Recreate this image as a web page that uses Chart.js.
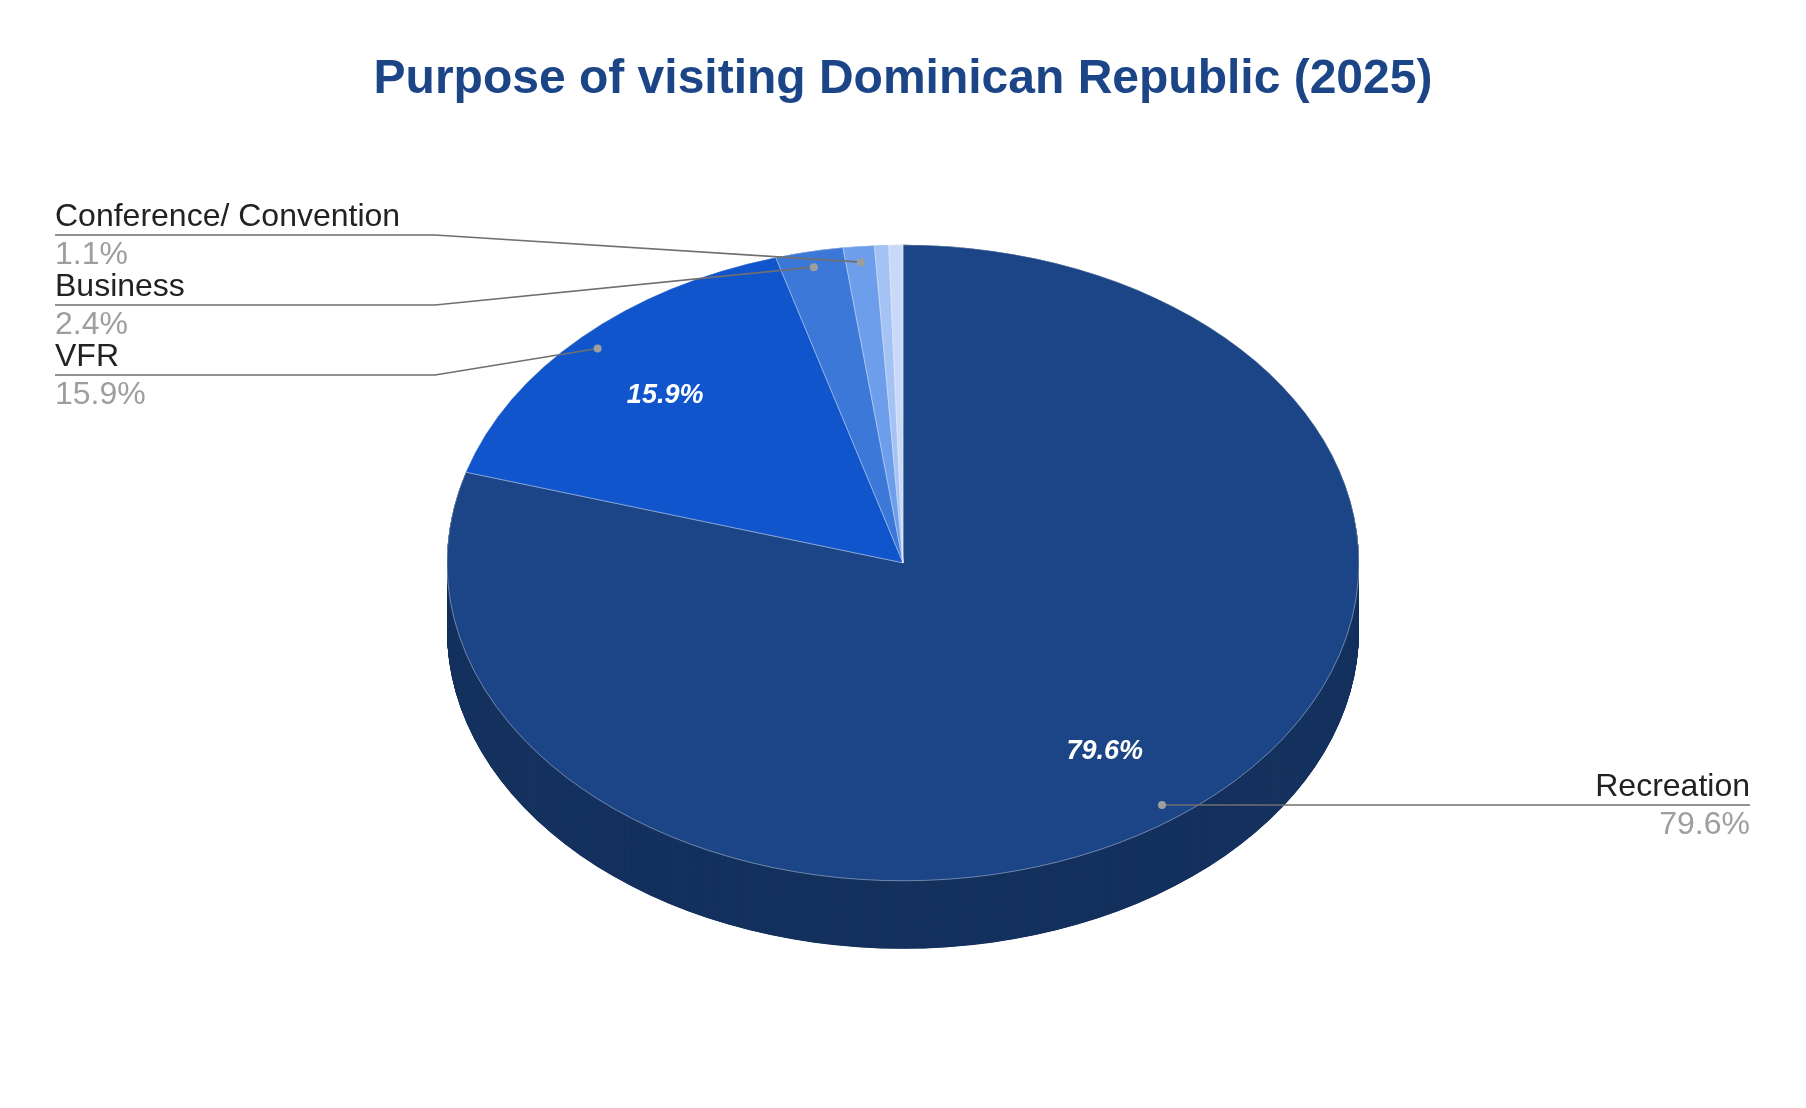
<!DOCTYPE html>
<html>
<head>
<meta charset="utf-8">
<script src="https://cdn.jsdelivr.net/npm/chart.js@4.4.1/dist/chart.umd.min.js"></script>
<style>
  html, body { margin: 0; padding: 0; background: #fff; }
  #wrap { width: 1806px; height: 1108px; }
</style>
</head>
<body>
<div id="wrap"><canvas id="purpose-chart"></canvas></div>
<script>
// shares of visitors by purpose, %
const purposeLabels = ["Recreation", "VFR", "Business", "Conference/ Convention", "Other", "Not stated"];
const purposeShares = [79.6, 15.9, 2.4, 1.1, 0.5, 0.5];
const topColors = ["#1c4587", "#1155cc", "#3c78d8", "#6d9eeb", "#a4c2f4", "#c9daf8"];
const sideColors = ["#15325f", "#0d4099", "#2d5aa2", "#5277b0", "#7b92b7", "#97a4ba"];
const calloutShown = [true, true, true, true, false, false];

const FONT = "'Liberation Sans', Arial, sans-serif";
const TILT = 318 / 456;   // vertical squash of the disc
const DEPTH = 68;         // height of the side wall on screen
const CALLOUT_TOP = 235;  // highest allowed leader line
const CALLOUT_GAP = 70;

// push overlapping callouts apart, keeping each cluster centred on its anchors
function spread(items) {
  items.sort((a, b) => a.dot.y - b.dot.y);
  let groups = items.map(it => ({ items: [it] }));
  const mean = g => g.items.reduce((s, it) => s + it.dot.y, 0) / g.items.length;
  const top = g => Math.max(CALLOUT_TOP, mean(g) - (g.items.length - 1) * CALLOUT_GAP / 2);
  let merged = true;
  while (merged) {
    merged = false;
    for (let g = 0; g < groups.length - 1; g++) {
      const a = groups[g], b = groups[g + 1];
      const aBottom = top(a) + (a.items.length - 1) * CALLOUT_GAP;
      if (top(b) - aBottom < CALLOUT_GAP) {
        groups.splice(g, 2, { items: a.items.concat(b.items) });
        merged = true;
        break;
      }
    }
  }
  groups.forEach(g => {
    const t = top(g);
    g.items.forEach((it, k) => { it.ly = t + k * CALLOUT_GAP; });
  });
}

function drawLabels(chart) {
  const ctx = chart.ctx;
  const arcs = chart.getDatasetMeta(0).data;
  const { x: cx, y: cy, outerRadius: r } = arcs[0];
  const total = purposeShares.reduce((s, v) => s + v, 0);
  const at = (a, f) => {
    const m = (a.startAngle + a.endAngle) / 2;
    return { x: cx + Math.cos(m) * r * f, y: cy + Math.sin(m) * r * f * TILT };
  };
  const pct = v => (v / total * 100).toFixed(1) + "%";

  ctx.save();
  // percentages inside the big slices
  ctx.font = "italic bold 27px " + FONT;
  ctx.fillStyle = "#ffffff";
  ctx.textAlign = "center";
  ctx.textBaseline = "middle";
  arcs.forEach((a, i) => {
    if (purposeShares[i] / total < 0.05) return;
    const p = at(a, 0.74);
    ctx.fillText(pct(purposeShares[i]), p.x, p.y);
  });

  // callouts
  const left = [], right = [];
  arcs.forEach((a, i) => {
    if (!calloutShown[i]) return;
    const dot = at(a, 0.95);
    (dot.x < cx ? left : right).push({ i, dot });
  });
  spread(left);
  spread(right);

  ctx.textBaseline = "alphabetic";
  ctx.font = "32px " + FONT;
  const draw = (it, side) => {
    const elbow = side < 0 ? cx - r - 12 : cx + r + 12;
    const edge = side < 0 ? 55 : 1750;
    ctx.strokeStyle = "#6f6f6f";
    ctx.lineWidth = 1.6;
    ctx.beginPath();
    ctx.moveTo(edge, it.ly);
    ctx.lineTo(elbow, it.ly);
    ctx.lineTo(it.dot.x, it.dot.y);
    ctx.stroke();
    ctx.fillStyle = "#9e9e9e";
    ctx.beginPath();
    ctx.arc(it.dot.x, it.dot.y, 4, 0, Math.PI * 2);
    ctx.fill();
    ctx.textAlign = side < 0 ? "left" : "right";
    ctx.fillStyle = "#222222";
    ctx.fillText(purposeLabels[it.i], edge, it.ly - 9);
    ctx.fillStyle = "#9e9e9e";
    ctx.fillText(pct(purposeShares[it.i]), edge, it.ly + 29);
  };
  left.forEach(it => draw(it, -1));
  right.forEach(it => draw(it, 1));
  ctx.restore();
}

const pie3d = {
  id: "pie3d",
  beforeDatasetsDraw(chart) {
    const ctx = chart.ctx;
    const arcs = chart.getDatasetMeta(0).data;
    const { x: cx, y: cy, outerRadius: r } = arcs[0];
    ctx.save();
    ctx.translate(cx, cy);
    ctx.scale(1, TILT);
    ctx.translate(-cx, -cy);
    // side wall: the slices stacked downwards, deepest first
    for (let d = DEPTH / TILT; d > 0; d -= 0.5) {
      arcs.forEach((a, i) => {
        ctx.beginPath();
        ctx.moveTo(cx, cy + d);
        ctx.arc(cx, cy + d, r, a.startAngle, a.endAngle);
        ctx.closePath();
        ctx.fillStyle = sideColors[i];
        ctx.fill();
      });
    }
  },
  afterDatasetsDraw(chart) {
    chart.ctx.restore();
    drawLabels(chart);
  }
};

new Chart(document.getElementById("purpose-chart"), {
  type: "pie",
  data: {
    labels: purposeLabels,
    datasets: [{
      data: purposeShares,
      backgroundColor: topColors,
      borderColor: "rgba(255,255,255,0.45)",
      borderWidth: 1,
      radius: 456,
      clip: false
    }]
  },
  options: {
    responsive: true,
    maintainAspectRatio: false,
    devicePixelRatio: 1,
    animation: false,
    events: [],
    layout: { padding: { left: 0, right: 0, top: 0, bottom: 108 } },
    plugins: {
      legend: { display: false },
      tooltip: { enabled: false },
      title: {
        display: true,
        text: "Purpose of visiting Dominican Republic (2025)",
        color: "#1c4587",
        font: { family: FONT, size: 48, weight: "bold" },
        padding: { top: 51, bottom: 17 }
      }
    }
  },
  plugins: [pie3d]
});
</script>
</body>
</html>
